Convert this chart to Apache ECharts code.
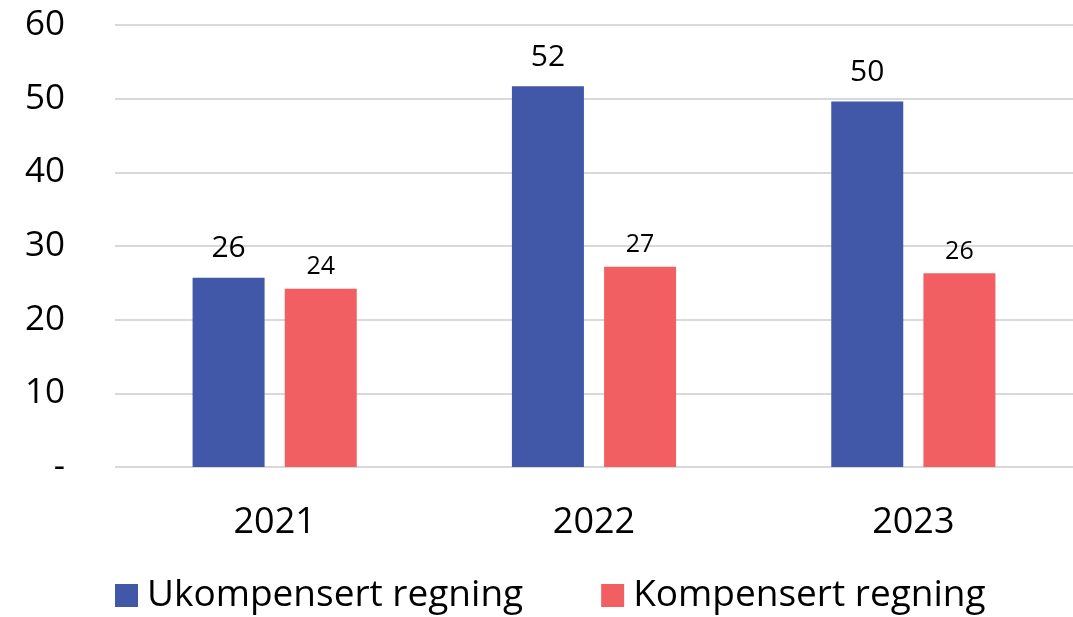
<!DOCTYPE html>
<html>
<head>
<meta charset="utf-8">
<script src="https://cdn.jsdelivr.net/npm/echarts@6/dist/echarts.min.js"></script>
<style>
  html, body { margin: 0; padding: 0; background: #fff; }
  #chart { width: 1073px; height: 617px; }
</style>
</head>
<body>
<div id="chart"></div>
<script>
const years = ['2021', '2022', '2023']
const ukompensert = [25.7, 51.7, 49.6]
const kompensert = [24.2, 27.2, 26.3]

const font = '"Open Sans", "Noto Sans", sans-serif'
const chart = echarts.init(document.getElementById('chart'))

chart.setOption({
  animation: false,
  textStyle: { fontFamily: font },
  grid: { left: 115, right: -2, top: 25, bottom: 150 },
  legend: {
    bottom: -2,
    left: 110,
    itemWidth: 23,
    itemHeight: 23,
    itemGap: 78,
    icon: 'rect',
    textStyle: { fontSize: 37, color: '#000', fontFamily: font, padding: [0, 0, 0, 4] }
  },
  xAxis: {
    type: 'category',
    data: years,
    axisLine: { show: false },
    axisTick: { show: false },
    axisLabel: { fontSize: 36, color: '#000', margin: 38 }
  },
  yAxis: {
    type: 'value',
    min: 0,
    max: 60,
    interval: 10,
    axisLabel: {
      fontSize: 35,
      color: '#000',
      margin: 50,
      formatter: v => (v === 0 ? '-' : String(v))
    },
    splitLine: { lineStyle: { color: '#d9d9d9', width: 2 } }
  },
  series: [
    {
      name: 'Ukompensert regning',
      type: 'bar',
      data: ukompensert,
      barWidth: 72,
      barGap: '28%',
      itemStyle: { color: '#4157a7' },
      label: {
        show: true,
        position: 'top',
        distance: 14,
        fontSize: 30,
        color: '#000',
        formatter: p => Math.round(p.value)
      }
    },
    {
      name: 'Kompensert regning',
      type: 'bar',
      data: kompensert,
      barWidth: 72,
      itemStyle: { color: '#f25f63' },
      label: {
        show: true,
        position: 'top',
        distance: 9,
        fontSize: 25,
        color: '#000',
        formatter: p => Math.round(p.value)
      }
    }
  ]
})
</script>
</body>
</html>
